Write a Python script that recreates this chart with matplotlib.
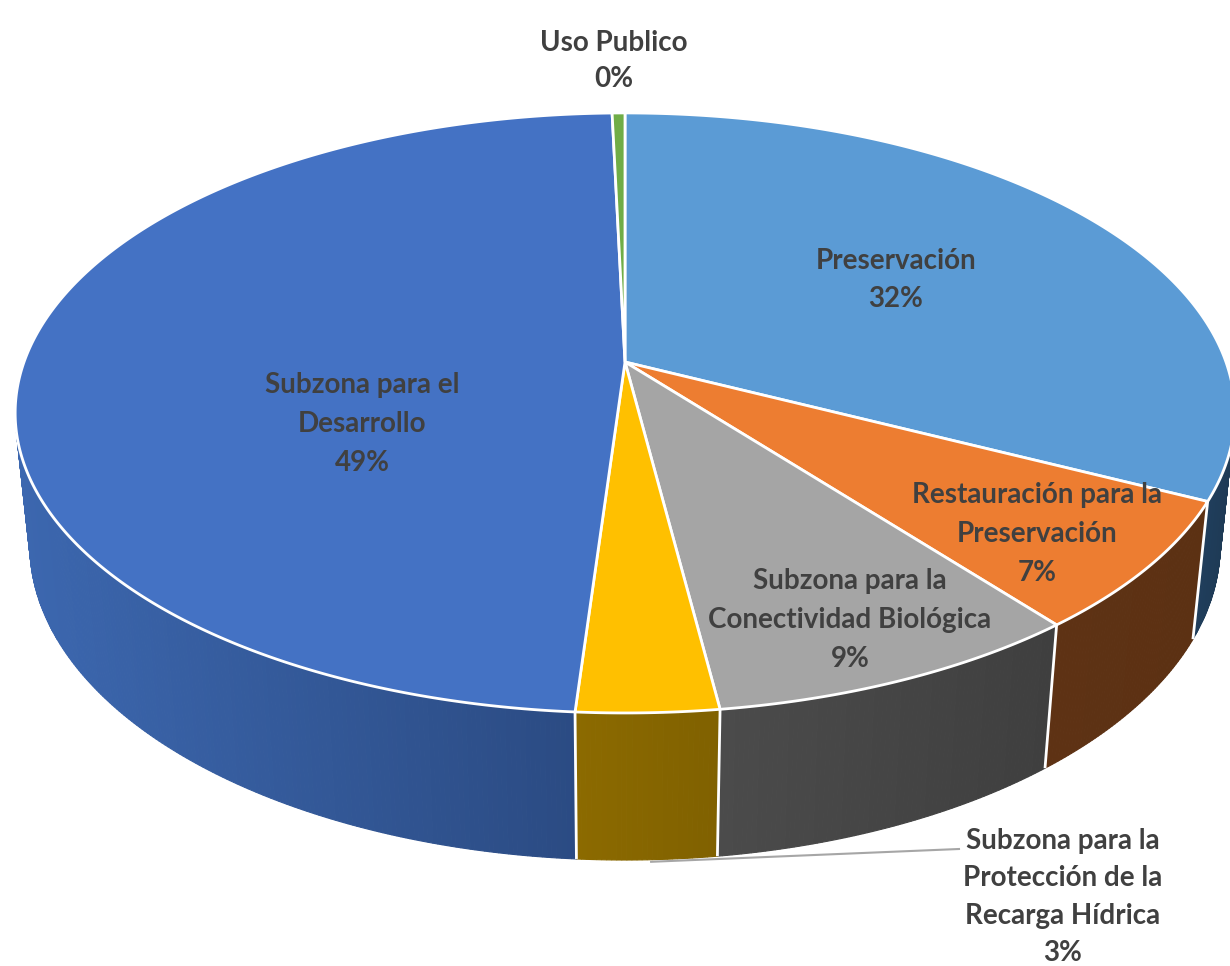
import numpy as np
import matplotlib
matplotlib.use("Agg")
import matplotlib.pyplot as plt
from matplotlib.colors import to_rgb

# ---- data ----
categories = ["Preservación", "Restauración para la\nPreservación",
              "Subzona para la\nConectividad Biológica",
              "Subzona para la\nProtección de la\nRecarga Hídrica",
              "Subzona para el\nDesarrollo", "Uso Publico"]
values = [32.3, 7.0, 8.6, 3.2, 48.5, 0.4]

top_colors = ["#5B9BD5", "#ED7D31", "#A5A5A5", "#FFC000", "#4472C4", "#70AD47"]
side_colors = [("#203E5C", "#1E3A55"), ("#5E3214", "#5C3113"),
               ("#4B4B4B", "#3F3F3F"), ("#8C6A00", "#806100"),
               ("#3C67AF", "#2B4B83"), ("#4F7A32", "#4F7A32")]

# label anchor (centre) positions in pixels
label_pos = [(896, 280), (1037, 534), (850, 620), (1063, 897), (362, 424), (614, 61)]

# ---- geometry (perspective projection of a cylinder) ----
W, H = 1230, 966
cx, cy = 625.0, 362.0
elev = np.radians(29.0)
ce, se = np.cos(elev), np.sin(elev)
D0 = 5.15
foc = 3095.0
depth = 0.255


def proj(x, y, z):
    d = D0 - (y * ce + z * se)
    X = cx + foc * x / d
    Y = cy + foc * (y * se - z * ce) / d
    return X, Y


def rim(phi, z):
    return proj(np.sin(phi), -np.cos(phi), z)


fig = plt.figure(figsize=(W / 100, H / 100), dpi=100)
ax = fig.add_axes([0, 0, 1, 1])
ax.set_xlim(0, W)
ax.set_ylim(H, 0)
ax.axis("off")

total = sum(values)
bounds = np.concatenate([[0], np.cumsum(values)]) / total * 2 * np.pi
thr = 1.0 / (D0 * ce) - 0.03

# ---- side walls ----
for i in range(len(values)):
    a0, a1 = bounds[i], bounds[i + 1]
    n = max(2, int((a1 - a0) / np.radians(0.4)))
    ph = np.linspace(a0, a1, n + 1)
    vis = -np.cos(ph) > thr
    if not vis.any():
        continue
    xt, yt = rim(ph, 0.0)
    xb, yb = rim(ph, -depth)
    xs = xt[vis]
    xmin, xmax = xs.min(), xs.max()
    c0, c1 = np.array(to_rgb(side_colors[i][0])), np.array(to_rgb(side_colors[i][1]))
    for j in range(n):
        if not (vis[j] or vis[j + 1]):
            continue
        t = 0.5 if xmax == xmin else ((xt[j] + xt[j + 1]) / 2 - xmin) / (xmax - xmin)
        t = np.clip(t, 0, 1)
        col = c0 * (1 - t) + c1 * t
        ax.fill([xt[j], xt[j + 1], xb[j + 1], xb[j]],
                [yt[j], yt[j + 1], yb[j + 1], yb[j]],
                color=col, lw=0.8, ec=col, zorder=1)

# white separators on side walls
for a in bounds[:-1]:
    if -np.cos(a) > thr:
        xt, yt = rim(a, 0.0)
        xb, yb = rim(a, -depth)
        ax.plot([xt, xb], [yt, yb], color="white", lw=2, zorder=2, solid_capstyle="butt")

# ---- top faces ----
for i in range(len(values)):
    a0, a1 = bounds[i], bounds[i + 1]
    n = max(4, int((a1 - a0) / np.radians(0.3)))
    ph = np.linspace(a0, a1, n + 1)
    xt, yt = rim(ph, 0.0)
    ax.fill(np.concatenate([[cx], xt]), np.concatenate([[cy], yt]),
            fc=top_colors[i], ec="white", lw=2, zorder=3, joinstyle="round")

# ---- labels ----
font = dict(family="Lato", weight="bold", size=20, color="#404040")
for i, cat in enumerate(categories):
    pct = int(values[i] / total * 100 + 0.5)
    txt = f"{cat}\n{pct}%"
    x, y = label_pos[i]
    ls = 1.45 if i == 5 else (1.55 if i == 3 else 1.6)
    ax.text(x, y, txt, ha="center", va="center", linespacing=ls, zorder=5, **font)

# leader line for the small slice
mid = (bounds[3] + bounds[4]) / 2
lx, ly = rim(mid, -depth)
ax.plot([lx + 4, 959], [ly + 2, 849], color="#A6A6A6", lw=1.5, zorder=4)

fig.savefig("out.png", dpi=100)
